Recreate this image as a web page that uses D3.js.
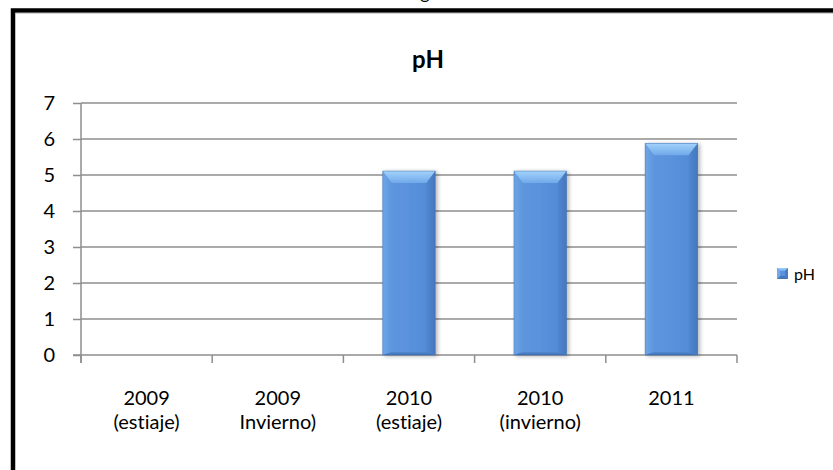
<!DOCTYPE html>
<html><head><meta charset="utf-8">
<script src="https://cdn.jsdelivr.net/npm/d3@7"></script>
<style>body{margin:0;background:#fff}svg{display:block}text{font-family:Lato,"Open Sans",sans-serif;fill:#000;font-variant-ligatures:none}</style>
</head><body>
<script>
const categories = [["2009","(estiaje)"],["2009","Invierno)"],["2010","(estiaje)"],["2010","(invierno)"],["2011",""]];
const values = [null, null, 5.11, 5.11, 5.88];
const yTicks = [0,1,2,3,4,5,6,7];
const seriesName = "pH";
const title = "pH";

const W = 833, H = 470;
const svg = d3.select("body").append("svg").attr("width", W).attr("height", H);

const defs = svg.append("defs");
function lg(id, x2, y2, stops){
  const g = defs.append("linearGradient").attr("id", id).attr("x1",0).attr("y1",0).attr("x2",x2).attr("y2",y2);
  stops.forEach(s=>g.append("stop").attr("offset",s[0]).attr("stop-color",s[1]));
}
lg("gMain",1,0,[[0,"#5f97de"],[0.5,"#5a92dc"],[1,"#5189d4"]]);
lg("gTop",0,1,[[0,"#a3d3fb"],[1,"#70a8ea"]]);
lg("gLeft",1,0,[[0,"#78afec"],[1,"#5e96de"]]);
lg("gRight",1,0,[[0,"#4f86cf"],[1,"#3f6fb4"]]);
lg("gBot",0,1,[[0,"#5088d0"],[1,"#3f70b3"]]);
const f = defs.append("filter").attr("id","sh").attr("x","-20%").attr("y","-10%").attr("width","150%").attr("height","130%");
f.append("feGaussianBlur").attr("in","SourceAlpha").attr("stdDeviation",2);
f.append("feOffset").attr("dx",2).attr("dy",1).attr("result","b");
f.append("feComponentTransfer").append("feFuncA").attr("type","linear").attr("slope",0.3);
const fm = f.append("feMerge"); fm.append("feMergeNode"); fm.append("feMergeNode").attr("in","SourceGraphic");

// partial text cut at top (as in the reference)
svg.append("text").attr("x",425).attr("y",-1).attr("text-anchor","middle").style("font-size","18px").text("g");

// frame
svg.append("rect").attr("x",13).attr("y",10.5).attr("width",W+20).attr("height",H+20)
  .attr("fill","#fff").attr("stroke","#000").attr("stroke-width",4.5);
svg.append("line").attr("x1",15.5).attr("x2",W).attr("y1",13.3).attr("y2",13.3).attr("stroke","#c8c8c8").attr("stroke-width",1);

const x = d3.scaleBand().domain(d3.range(categories.length)).range([81, 737]).paddingInner(0.6).paddingOuter(0.3);
const xb = d3.scaleBand().domain(d3.range(categories.length)).range([81, 737]);
const y = d3.scaleLinear().domain([0,7]).range([355, 103]);

// gridlines
svg.append("g").selectAll("line").data(yTicks.filter(d=>d>0)).join("line")
  .attr("x1",81).attr("x2",737).attr("y1",d=>y(d)).attr("y2",d=>y(d))
  .attr("stroke","#8e8e8e").attr("stroke-width",1.5);

// y axis
const ya = svg.append("g").attr("transform","translate(81,0)")
  .call(d3.axisLeft(y).tickValues(yTicks).tickSize(8).tickPadding(18).tickFormat(d3.format("d")));
ya.select(".domain").attr("stroke","#8e8e8e").attr("stroke-width",1.5).attr("d","M0,103V363");
ya.selectAll(".tick line").attr("stroke","#8e8e8e").attr("stroke-width",1.5);
ya.selectAll(".tick text").style("font-size","20px").attr("fill","#000");

// x axis
const xa = svg.append("g").attr("transform","translate(0,355)");
xa.append("line").attr("x1",73).attr("x2",737).attr("y1",0).attr("y2",0).attr("stroke","#8e8e8e").attr("stroke-width",1.5);
const edges = d3.range(categories.length).map(i=>xb(i)).concat([xb(categories.length-1)+xb.bandwidth()]);
xa.selectAll("line.t").data(edges).join("line").attr("class","t")
  .attr("x1",d=>d).attr("x2",d=>d).attr("y1",0).attr("y2",8).attr("stroke","#8e8e8e").attr("stroke-width",1.5);
const lbl = xa.selectAll("text.c").data(categories).join("text").attr("class","c")
  .attr("text-anchor","middle").style("font-size","20px")
  .attr("transform",(d,i)=>`translate(${xb(i)+xb.bandwidth()/2},0)`);
lbl.append("tspan").attr("x",0).attr("y",50).text(d=>d[0]);
lbl.append("tspan").attr("x",0).attr("y",74).text(d=>d[1]);

// bars
const bv = 9;
const bars = svg.append("g").selectAll("g").data(values.map((v,i)=>({v,i})).filter(d=>d.v!=null)).join("g").attr("filter","url(#sh)");
bars.each(function(d){
  const g = d3.select(this);
  const x0 = x(d.i), x1 = x0 + x.bandwidth(), y0 = y(d.v), y1 = y(0);
  g.append("rect").attr("x",x0).attr("y",y0).attr("width",x1-x0).attr("height",y1-y0).attr("fill","url(#gMain)");
  g.append("polygon").attr("points",`${x0},${y0} ${x0+bv},${y0+bv} ${x0+bv},${y1-3} ${x0},${y1}`).attr("fill","url(#gLeft)").attr("opacity",0.6);
  g.append("polygon").attr("points",`${x1},${y0} ${x1-bv},${y0+bv} ${x1-bv},${y1-3} ${x1},${y1}`).attr("fill","url(#gRight)").attr("opacity",0.7);
  g.append("polygon").attr("points",`${x0},${y1} ${x0+bv},${y1-3} ${x1-bv},${y1-3} ${x1},${y1}`).attr("fill","url(#gBot)");
  g.append("polygon").attr("points",`${x0},${y0} ${x1},${y0} ${x1-bv},${y0+bv+3} ${x0+bv},${y0+bv+3}`).attr("fill","url(#gTop)");
  g.append("rect").attr("x",x0).attr("y",y0).attr("width",x1-x0).attr("height",y1-y0).attr("fill","none").attr("stroke","#3f6fb0").attr("stroke-opacity",0.6).attr("stroke-width",0.8);
});

// title
svg.append("text").attr("x",428).attr("y",68).attr("text-anchor","middle").style("font-size","24px").style("font-weight","bold").text(title);

// legend
const lgG = svg.append("g").attr("transform","translate(777,268)");
lgG.append("rect").attr("width",11).attr("height",11).attr("fill","#5a92dc");
lgG.append("polygon").attr("points","0,0 11,0 8,3 3,3").attr("fill","url(#gTop)");
lgG.append("polygon").attr("points","11,0 11,11 8,8 8,3").attr("fill","#4a7dc2");
lgG.append("polygon").attr("points","0,11 11,11 8,8 3,8").attr("fill","#4677bb");
lgG.append("polygon").attr("points","0,0 0,11 3,8 3,3").attr("fill","#73aaea");
lgG.append("text").attr("x",17).attr("y",12).style("font-size","16px").text(seriesName);
</script>
</body></html>
